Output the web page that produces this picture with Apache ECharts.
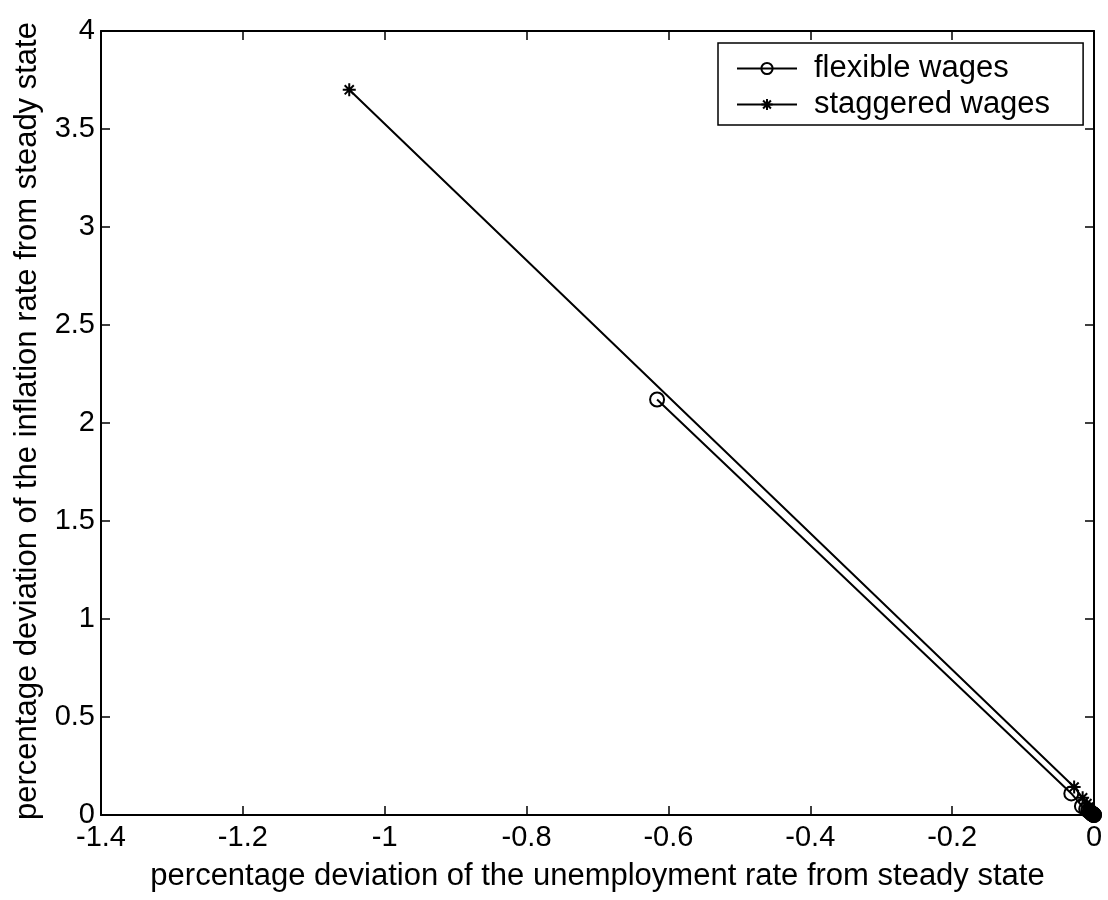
<!DOCTYPE html>
<html>
<head>
<meta charset="utf-8">
<script src="https://cdn.jsdelivr.net/npm/echarts@6/dist/echarts.min.js"></script>
<style>html,body{margin:0;padding:0;background:#fff}#c{width:1108px;height:900px}</style>
</head>
<body>
<div id="c"></div>
<script>
const seriesNames = ['flexible wages', 'staggered wages'];
const flexibleX = [-0.616, -0.032, -0.017, -0.011, -0.008, -0.006, -0.0045, -0.0035, -0.0027, -0.002, -0.0015, -0.001, -0.0007, -0.0004, -0.0002, 0];
const flexibleY = [2.12, 0.11, 0.045, 0.03, 0.022, 0.016, 0.012, 0.009, 0.007, 0.005, 0.0038, 0.0027, 0.0018, 0.001, 0.0005, 0];
const staggeredX = [-1.05, -0.028, -0.016, -0.01, -0.0072, -0.0055, -0.004, -0.003, -0.0022, -0.0015, -0.001, -0.0006, -0.0003, 0];
const staggeredY = [3.70, 0.143, 0.088, 0.058, 0.04, 0.029, 0.021, 0.015, 0.011, 0.008, 0.005, 0.003, 0.0015, 0];
const xTicks = {min: -1.4, max: 0, interval: 0.2};
const yTicks = {min: 0, max: 4, interval: 0.5};
const xTitle = 'percentage deviation of the unemployment rate from steady state';
const yTitle = 'percentage deviation of the inflation rate from steady state';

const font = 'Liberation Sans, Arial, sans-serif';
const star = 'path://M0,-1L0,1M-1,0L1,0M-0.7,-0.7L0.7,0.7M-0.7,0.7L0.7,-0.7';
const zip = (xs, ys) => xs.map((x, i) => [x, ys[i]]);

const chart = echarts.init(document.getElementById('c'));
const axisBase = {
  axisLine: {show: true, onZero: false, lineStyle: {color: '#000', width: 2}},
  axisTick: {show: true, inside: true, length: 9, lineStyle: {color: '#000', width: 1.5}},
  splitLine: {show: false}
};
chart.setOption({
  animation: false,
  backgroundColor: '#fff',
  grid: {left: 101, right: 14, top: 31, bottom: 85, containLabel: false, outerBoundsMode: 'none'},
  xAxis: [
    Object.assign({type: 'value', position: 'bottom', min: xTicks.min, max: xTicks.max, interval: xTicks.interval,
      axisLabel: {color: '#000', fontSize: 29, fontFamily: font, margin: 8, showMinLabel: true, showMaxLabel: true},
      name: xTitle, nameLocation: 'middle', nameGap: 46,
      nameTextStyle: {color: '#000', fontSize: 31, fontFamily: font}}, axisBase),
    Object.assign({type: 'value', position: 'top', min: xTicks.min, max: xTicks.max, interval: xTicks.interval,
      axisLabel: {show: false}}, axisBase)
  ],
  yAxis: [
    Object.assign({type: 'value', position: 'left', min: yTicks.min, max: yTicks.max, interval: yTicks.interval,
      axisLabel: {color: '#000', fontSize: 29, fontFamily: font, margin: 6}}, axisBase),
    Object.assign({type: 'value', position: 'right', min: yTicks.min, max: yTicks.max, interval: yTicks.interval,
      axisLabel: {show: false}}, axisBase)
  ],
  legend: {
    left: 718, top: 43, orient: 'vertical',
    backgroundColor: '#fff', borderColor: '#000', borderWidth: 1.5,
    padding: [10, 33, 5, 18], itemGap: 5, itemWidth: 60, itemHeight: 14,
    textStyle: {color: '#000', fontSize: 31, fontFamily: font, padding: [0, 0, 0, 12]},
    data: seriesNames
  },
  graphic: [{
    type: 'text', x: 27, y: 421, rotation: Math.PI / 2,
    style: {text: yTitle, font: '31px ' + font, fill: '#000', align: 'center', verticalAlign: 'middle'}
  }],
  series: [
    {
      name: seriesNames[0], type: 'line', data: zip(flexibleX, flexibleY),
      symbol: 'circle', symbolSize: 14,
      itemStyle: {color: 'rgba(0,0,0,0)', borderColor: '#000', borderWidth: 2},
      lineStyle: {color: '#000', width: 2}, xAxisIndex: 0, yAxisIndex: 0, z: 3
    },
    {
      name: seriesNames[1], type: 'line', data: zip(staggeredX, staggeredY),
      symbol: star, symbolSize: 13,
      itemStyle: {color: '#000', borderColor: '#000', borderWidth: 2},
      lineStyle: {color: '#000', width: 2}, xAxisIndex: 0, yAxisIndex: 0, z: 3
    }
  ]
});
</script>
</body>
</html>
